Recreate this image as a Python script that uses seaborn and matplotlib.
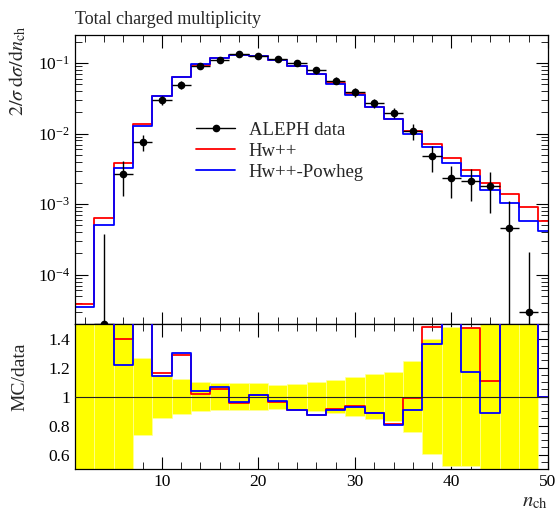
import numpy as np
import pandas as pd
import seaborn as sns
import matplotlib.pyplot as plt
import matplotlib.ticker as ticker
from matplotlib.lines import Line2D

# bin centres (charged multiplicity) and bin edges
n_ch = [2, 4, 6, 8, 10, 12, 14, 16, 18, 20, 22, 24, 26, 28, 30,
        32, 34, 36, 38, 40, 42, 44, 46, 48, 50]
bin_edges = [1, 3, 5, 7, 9, 11, 13, 15, 17, 19, 21, 23, 25, 27, 29,
             31, 33, 35, 37, 39, 41, 43, 45, 47, 49, 51]

# ALEPH data and uncertainties
aleph = [1e-6, 2.0e-5, 2.71e-3, 7.6e-3, 2.96e-2, 4.94e-2, 9.2e-2, 0.112,
         0.136, 0.124, 0.115, 0.100, 0.0788, 0.0564, 0.0385, 0.0271,
         0.0198, 0.0109, 4.76e-3, 2.35e-3, 2.11e-3, 1.81e-3, 4.6e-4,
         2.97e-5, 0.0]
aleph_err = [1.5e-5, 3.6e-4, 1.4e-3, 2.0e-3, 4.3e-3, 6.0e-3, 9.2e-3,
             1.06e-2, 1.25e-2, 1.12e-2, 9.5e-3, 8.8e-3, 7.7e-3, 6.5e-3,
             5.2e-3, 4.2e-3, 3.4e-3, 2.7e-3, 1.9e-3, 1.12e-3, 1.01e-3,
             1.05e-3, 6.5e-4, 1.8e-4, 0.0]

# Monte Carlo predictions
hwpp = [3.8e-5, 6.4e-4, 3.79e-3, 1.355e-2, 3.44e-2, 6.34e-2, 9.35e-2,
        0.118, 0.130, 0.1255, 0.111, 0.0904, 0.0690, 0.0515, 0.0361,
        0.0241, 0.0161, 0.0108, 7.05e-3, 4.5e-3, 3.10e-3, 2.0e-3,
        1.38e-3, 9.1e-4, 5.7e-4]
hwpp_powheg = [3.5e-5, 5.0e-4, 3.30e-3, 1.27e-2, 3.38e-2, 6.41e-2, 9.56e-2,
               0.1197, 0.1312, 0.1255, 0.1113, 0.091, 0.0689, 0.0510,
               0.0357, 0.0240, 0.0159, 0.0099, 6.48e-3, 3.84e-3, 2.47e-3,
               1.61e-3, 1.04e-3, 5.8e-4, 4.2e-4]

sns.set_theme(style='ticks')
plt.rcParams['font.family'] = ['Liberation Serif', 'DejaVu Serif']
plt.rcParams['mathtext.fontset'] = 'stix'

data = np.array(aleph)
err = np.array(aleph_err)
safe = np.where(data > 0, data, 1)
ratio_err = np.minimum(np.where(data > 0, err / safe, 0.0), 10)

# step table: repeat last value so the final bin gets drawn
ratio_hw = list(np.where(data > 0, np.array(hwpp) / safe, 1.0))
ratio_pw = list(np.where(data > 0, np.array(hwpp_powheg) / safe, 1.0))
steps = pd.DataFrame({
    'edge': bin_edges * 2,
    'value': hwpp + [hwpp[-1]] + hwpp_powheg + [hwpp_powheg[-1]],
    'ratio': ratio_hw + [ratio_hw[-1]] + ratio_pw + [ratio_pw[-1]],
    'generator': ['Hw++'] * 26 + ['Hw++-Powheg'] * 26,
})
palette = {'Hw++': '#ff0000', 'Hw++-Powheg': '#0000ff'}

fig = plt.figure(figsize=(5.57, 5.14), dpi=100)
ax = fig.add_axes([0.1347, 0.3696, 0.849, 0.5623])
rax = fig.add_axes([0.1347, 0.0875, 0.849, 0.2821], sharex=ax)

# --- main panel
sns.lineplot(data=steps, x='edge', y='value', hue='generator', palette=palette,
             drawstyle='steps-post', estimator=None, sort=False, lw=1.3,
             legend=False, ax=ax)
ax.errorbar(n_ch, aleph, yerr=aleph_err, xerr=1, fmt='o', color='black',
            ms=4.5, lw=1, capsize=0, zorder=5)
ax.set_yscale('log')
ax.set_ylim(2e-5, 0.25)
ax.set_xlim(1, 50)
ax.set_xlabel('')
ax.set_ylabel(r'$2/\sigma\;\mathrm{d}\sigma/\mathrm{d}n_{\mathrm{ch}}$', fontsize=14.5, loc='top')
ax.yaxis.set_label_coords(-0.098, 1.035)
ax.set_title('Total charged multiplicity', loc='left', fontsize=13, pad=8)
ax.tick_params(labelbottom=False)

handles = [Line2D([], [], color='black', marker='o', ms=4.5, lw=1),
           Line2D([], [], color='#ff0000', lw=1.3),
           Line2D([], [], color='#0000ff', lw=1.3)]
ax.legend(handles, ['ALEPH data', 'Hw++', 'Hw++-Powheg'], loc='upper left',
          bbox_to_anchor=(0.256, 0.70), frameon=False, fontsize=13.5,
          handlelength=2.1, handletextpad=0.7, labelspacing=0.2,
          borderpad=0, borderaxespad=0)

# --- ratio panel
rax.bar(n_ch, 2 * ratio_err, bottom=1 - ratio_err, width=2, color='#ffff00',
        edgecolor='#ffff99', lw=0.5, zorder=1)
sns.lineplot(data=steps, x='edge', y='ratio', hue='generator', palette=palette,
             drawstyle='steps-post', estimator=None, sort=False, lw=1.3,
             legend=False, ax=rax, zorder=3)
rax.axhline(1, color='#222222', lw=0.8, zorder=4)
rax.set_ylim(0.5, 1.5)
rax.set_xlim(1, 50)
rax.set_xlabel(r'$n_{\mathrm{ch}}$', fontsize=15, loc='right')
rax.xaxis.set_label_coords(1.0, -0.16)
rax.set_ylabel('MC/data', fontsize=14, loc='top')
rax.yaxis.set_label_coords(-0.098, 0.87)

rax.xaxis.set_major_locator(ticker.MultipleLocator(10))
rax.xaxis.set_minor_locator(ticker.MultipleLocator(2))
rax.yaxis.set_major_locator(ticker.FixedLocator([0.6, 0.8, 1.0, 1.2, 1.4]))
rax.yaxis.set_major_formatter(ticker.FormatStrFormatter('%g'))
rax.yaxis.set_minor_locator(ticker.MultipleLocator(0.05))
ax.yaxis.set_minor_locator(ticker.LogLocator(subs=np.arange(2, 10)))
ax.yaxis.set_minor_formatter(ticker.NullFormatter())

for a in (ax, rax):
    a.tick_params(which='both', direction='in', top=True, right=True,
                  labelsize=12.5, colors='black')
    a.tick_params(which='major', length=9, width=0.8)
    a.tick_params(which='minor', length=5, width=0.6)
    for s in a.spines.values():
        s.set_color('black')
        s.set_linewidth(0.9)

plt.savefig('out.png', dpi=100)
